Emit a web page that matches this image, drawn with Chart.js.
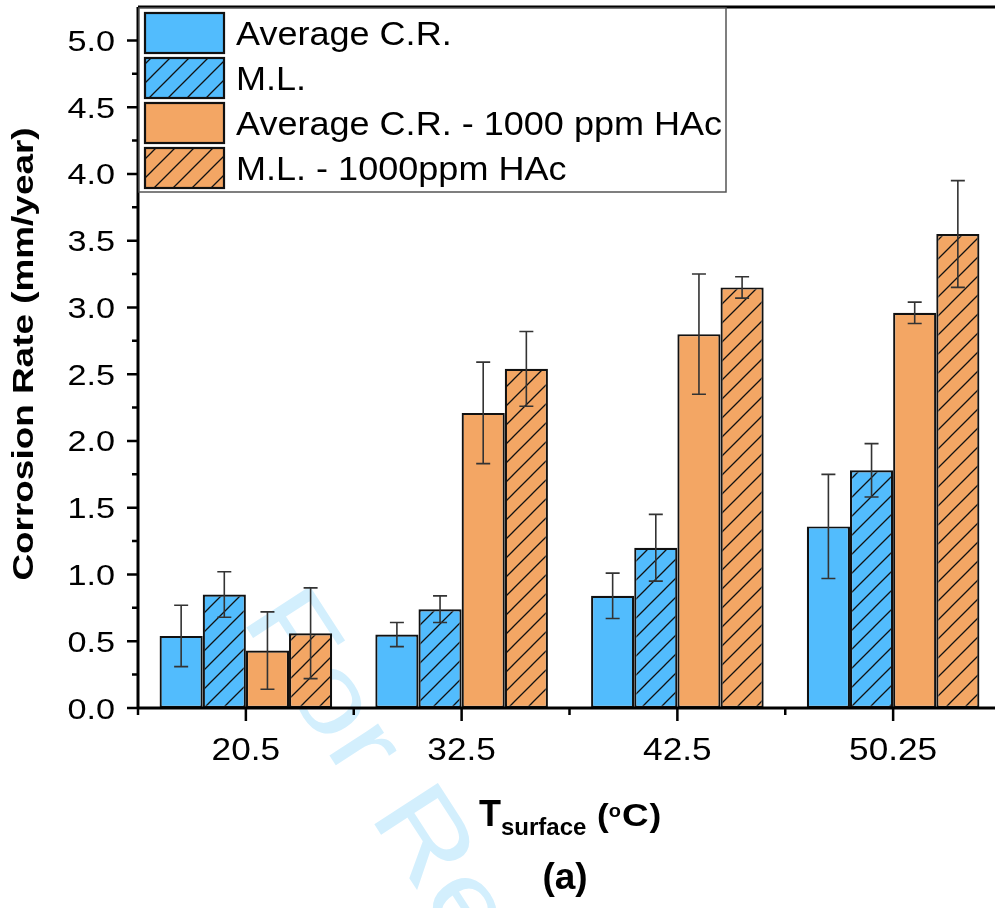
<!DOCTYPE html>
<html>
<head>
<meta charset="utf-8">
<script src="https://cdn.jsdelivr.net/npm/chart.js@4.4.1/dist/chart.umd.min.js"></script>
<style>
  html, body { margin: 0; padding: 0; background: #fff; overflow: hidden; }
  #wrap { width: 1004px; height: 908px; }
</style>
</head>
<body>
<div id="wrap"><canvas id="chart" width="1004" height="908"></canvas></div>
<script>
// Surface temperature groups (°C)
const categories = ['20.5', '32.5', '42.5', '50.25'];

// Corrosion rate in mm/year, each with the half-height of its error bar
const avgCR = [0.54, 0.55, 0.84, 1.36];
const avgCRErr = [0.23, 0.09, 0.17, 0.39];
const massLoss = [0.85, 0.74, 1.20, 1.78];
const massLossErr = [0.17, 0.10, 0.25, 0.20];
const avgCRHAc = [0.43, 2.21, 2.80, 2.96];
const avgCRHAcErr = [0.29, 0.38, 0.45, 0.08];
const massLossHAc = [0.56, 2.54, 3.15, 3.55];
const massLossHAcErr = [0.34, 0.28, 0.08, 0.40];

const seriesLabels = ['Average C.R.', 'M.L.', 'Average C.R. - 1000 ppm HAc', 'M.L. - 1000ppm HAc'];

const yMax = 5.25;
const yStep = 0.5;

const BLUE = '#52bcfd';
const ORANGE = '#f3a664';
const FONT = '"Liberation Sans", Arial, sans-serif';

const canvas = document.getElementById('chart');
const ctx = canvas.getContext('2d');

// diagonal "/" hatch over a flat fill
function hatch(color) {
    const s = 19;
    const tile = document.createElement('canvas');
    tile.width = s;
    tile.height = s;
    const g = tile.getContext('2d');
    g.fillStyle = color;
    g.fillRect(0, 0, s, s);
    g.strokeStyle = '#111';
    g.lineWidth = 1.3;
    g.beginPath();
    g.moveTo(0, s); g.lineTo(s, 0);
    g.moveTo(-2, 2); g.lineTo(2, -2);
    g.moveTo(s - 2, s + 2); g.lineTo(s + 2, s - 2);
    g.stroke();
    return ctx.createPattern(tile, 'repeat');
}

// text with a horizontal stretch factor (the figure uses a wide sans face);
// returns the x where the next piece of text should start
function drawText(c, text, x, y, font, sx, align) {
    c.save();
    c.font = font;
    c.translate(x, y);
    c.scale(sx, 1);
    c.textAlign = align || 'left';
    c.textBaseline = 'alphabetic';
    c.fillText(text, 0, 0);
    const w = c.measureText(text).width * sx;
    c.restore();
    return x + w;
}

const errors = [avgCRErr, massLossErr, avgCRHAcErr, massLossHAcErr];

const figurePlugin = {
    id: 'figure',
    beforeDraw(chart) {
        const c = chart.ctx;
        c.save();
        c.fillStyle = '#fff';
        c.fillRect(0, 0, chart.width, chart.height);
        // review watermark
        c.translate(266, 602);
        c.rotate(57 * Math.PI / 180);
        c.scale(1.2, 1);
        c.fillStyle = '#d3effd';
        c.font = '110px ' + FONT;
        c.textBaseline = 'middle';
        c.fillText('For Review', 0, 0);
        c.restore();
    },
    afterDatasetsDraw(chart) {
        const c = chart.ctx;
        const x = chart.scales.x;
        const y = chart.scales.y;
        const { left, right, top, bottom } = chart.chartArea;

        // error bars
        c.save();
        c.strokeStyle = '#333';
        c.lineWidth = 1.6;
        chart.data.datasets.forEach((ds, i) => {
            const meta = chart.getDatasetMeta(i);
            meta.data.forEach((bar, j) => {
                const v = ds.data[j];
                const e = errors[i][j];
                const y1 = y.getPixelForValue(v + e);
                const y2 = y.getPixelForValue(v - e);
                c.beginPath();
                c.moveTo(bar.x, y1); c.lineTo(bar.x, y2);
                c.moveTo(bar.x - 7, y1); c.lineTo(bar.x + 7, y1);
                c.moveTo(bar.x - 7, y2); c.lineTo(bar.x + 7, y2);
                c.stroke();
            });
        });
        c.restore();

        // frame and ticks
        c.save();
        c.strokeStyle = '#000';
        c.lineWidth = 3;
        c.beginPath();
        c.moveTo(left, top); c.lineTo(right, top);
        c.moveTo(left, top); c.lineTo(left, bottom);
        c.moveTo(left, bottom); c.lineTo(right, bottom);
        c.stroke();

        c.lineWidth = 2.5;
        c.beginPath();
        y.ticks.forEach(t => {
            const py = y.getPixelForValue(t.value);
            c.moveTo(left - 11, py); c.lineTo(left, py);
            const mv = t.value + yStep / 2;
            if (mv < yMax) {
                const pm = y.getPixelForValue(mv);
                c.moveTo(left - 6, pm); c.lineTo(left, pm);
            }
        });
        chart.data.labels.forEach((lab, i) => {
            const px = x.getPixelForTick(i);
            c.moveTo(px, bottom); c.lineTo(px, bottom + 13);
        });
        for (let i = 0; i <= chart.data.labels.length; i++) {
            const px = x.getPixelForValue(i - 0.5);
            c.moveTo(px, bottom); c.lineTo(px, bottom + 7);
        }
        c.stroke();
        c.restore();
    },
    afterDraw(chart) {
        const c = chart.ctx;
        const x = chart.scales.x;
        const y = chart.scales.y;
        const { left, bottom } = chart.chartArea;
        c.save();
        c.fillStyle = '#000';

        // tick labels
        y.ticks.forEach(t => {
            drawText(c, t.value.toFixed(1), left - 23, y.getPixelForValue(t.value) + 10.5,
                '29px ' + FONT, 1.18, 'right');
        });
        chart.data.labels.forEach((lab, i) => {
            drawText(c, lab, x.getPixelForTick(i), bottom + 52, '32px ' + FONT, 1.1, 'center');
        });

        // y title
        c.save();
        c.translate(33, 354);
        c.rotate(-Math.PI / 2);
        drawText(c, 'Corrosion Rate (mm/year)', 0, 0, 'bold 30px ' + FONT, 1.23, 'center');
        c.restore();

        // x title: T_surface (°C)
        drawText(c, 'T', 479, 826, 'bold 36px ' + FONT, 1.0);
        drawText(c, 'surface', 501, 835, 'bold 24px ' + FONT, 1.0);
        let cx = drawText(c, '(', 597, 826, 'bold 32px ' + FONT, 1.1);
        cx = drawText(c, 'o', cx, 817, 'bold 19px ' + FONT, 1.05);
        cx = drawText(c, 'C', cx + 1, 826, 'bold 32px ' + FONT, 1.15);
        drawText(c, ')', cx + 1, 826, 'bold 32px ' + FONT, 1.1);

        // panel label
        drawText(c, '(a)', 565, 889, 'bold 37px ' + FONT, 1.0, 'center');

        // legend box
        const bx = 139, by = 8, bw = 587, bh = 184;
        c.fillStyle = '#fff';
        c.fillRect(bx, by, bw, bh);
        c.strokeStyle = '#555';
        c.lineWidth = 1.5;
        c.strokeRect(bx, by, bw, bh);
        chart.data.datasets.forEach((ds, i) => {
            const sy = 13 + i * 45;
            c.fillStyle = ds.backgroundColor;
            c.fillRect(145, sy, 79, 40);
            c.strokeStyle = '#111';
            c.lineWidth = 2.2;
            c.strokeRect(145, sy, 79, 40);
            c.fillStyle = '#000';
            drawText(c, ds.label, 236, sy + 32, '34px ' + FONT, 1.06);
        });
        c.restore();
    }
};

new Chart(ctx, {
    type: 'bar',
    data: {
        labels: categories,
        datasets: [
            { label: seriesLabels[0], data: avgCR, backgroundColor: BLUE },
            { label: seriesLabels[1], data: massLoss, backgroundColor: hatch(BLUE) },
            { label: seriesLabels[2], data: avgCRHAc, backgroundColor: ORANGE },
            { label: seriesLabels[3], data: massLossHAc, backgroundColor: hatch(ORANGE) }
        ].map(ds => Object.assign(ds, {
            borderColor: '#111',
            borderWidth: 2.2,
            borderSkipped: false,
            categoryPercentage: 0.8,
            barPercentage: 1.0
        }))
    },
    plugins: [figurePlugin],
    options: {
        responsive: false,
        devicePixelRatio: 1,
        animation: false,
        layout: { padding: { top: 7, right: 3, left: 0, bottom: 0 } },
        plugins: {
            legend: { display: false },
            tooltip: { enabled: false }
        },
        scales: {
            x: {
                offset: true,
                grid: { display: false },
                border: { display: false },
                ticks: { display: false },
                afterFit: (s) => { s.height = 200; }
            },
            y: {
                min: 0,
                max: yMax,
                grid: { display: false },
                border: { display: false },
                ticks: { display: false, stepSize: yStep, includeBounds: false },
                afterFit: (s) => { s.width = 138; }
            }
        }
    }
});
</script>
</body>
</html>
